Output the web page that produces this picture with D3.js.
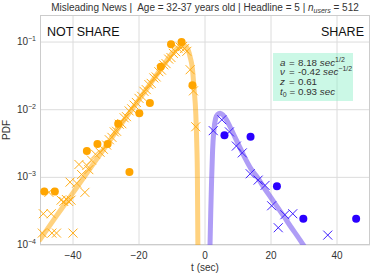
<!DOCTYPE html>
<html>
<head>
<meta charset="utf-8">
<script src="https://cdn.jsdelivr.net/npm/d3@7"></script>
<style>
body { margin: 0; background: #fff; }
text { font-family: "Liberation Sans", Arial, sans-serif; white-space: pre; }
</style>
</head>
<body>
<script>
var width = 374;
var height = 275;
var margin = {left: 40, right: 4, top: 15, bottom: 30};

// histogram points (circles)
var notShareBinT = [-48.7, -45.5, -35.8, -32.6, -29.5, -26.3, -22.9, -19.9, -16.7, -13.4, -10.3, -7.1, -3.8];
var notShareBinPdf = [6.2e-4, 6.2e-4, 2.45e-3, 3.1e-3, 3.1e-3, 6.2e-3, 1.2e-3, 8.9e-3, 1.26e-2, 4.3e-2, 9.3e-2, 1.0e-1, 2.3e-2];
var shareBinT = [5.9, 13.8, 21.8, 29.8, 45.8];
var shareBinPdf = [4.2e-3, 4.0e-3, 7.4e-4, 2.45e-4, 2.45e-4];

// kde points (crosses)
var notShareObsT = [-49.3, -46.4, -45.0, -40.0, -49.0, -46.6, -47.3,
    -43.6, -42.8, -42.0, -41.3, -40.6, -40.9, -38.9, -36.4,
    -38.2, -37.4, -35.8, -35.2, -34.4, -33.2, -31.8, -30.8, -29.8,
    -29.0, -28.2, -27.5, -26.8, -26.0, -25.2, -24.5, -23.8, -23.0, -22.2,
    -21.5, -20.8, -20.0, -19.2, -18.5, -17.8, -17.0, -16.3, -15.5, -14.8,
    -14.0, -13.2, -12.5, -11.8, -11.0, -10.3, -9.6, -8.9, -8.2, -7.5,
    -6.8, -6.2, -5.5, -4.5, -3.5, -2.8];
var notShareObsPdf = [1.5e-4, 1.5e-4, 1.5e-4, 1.5e-4, 2.9e-4, 2.9e-4, 6.0e-4,
    4.6e-4, 4.4e-4, 4.7e-4, 4.4e-4, 4.6e-4, 8.5e-4, 8.2e-4, 6.0e-4,
    1.55e-3, 1.1e-3, 1.5e-3, 1.3e-3, 1.8e-3, 2.2e-3, 2.35e-3, 2.6e-3, 3.0e-3,
    3.6e-3, 3.9e-3, 4.7e-3, 4.8e-3, 6.1e-3, 6.2e-3, 7.6e-3, 7.9e-3, 9.6e-3, 1.03e-2,
    1.17e-2, 1.28e-2, 1.47e-2, 1.58e-2, 1.87e-2, 1.98e-2, 2.35e-2, 2.45e-2, 2.95e-2, 3.05e-2,
    3.65e-2, 3.85e-2, 4.6e-2, 4.8e-2, 5.6e-2, 5.9e-2, 6.8e-2, 7.2e-2, 8.1e-2, 8.4e-2,
    8.6e-2, 8.0e-2, 7.3e-2, 3.9e-2, 1.9e-2, 5.6e-3];
var shareObsT = [2.5, 5.1, 7.4, 9.5, 11.3, 13.7, 16.1, 18.2, 20.2, 22.2, 24.2, 26.6, 37.2];
var shareObsPdf = [4.9e-3, 7.1e-3, 4.7e-3, 2.9e-3, 2.3e-3, 1.13e-3, 9.1e-4, 7.6e-4, 3.8e-4, 1.8e-4, 2.8e-4, 2.9e-4, 1.4e-4];

// fitted model curves
var notShareFitT = [-50, -45, -40, -35, -30, -25, -20, -15, -12, -10, -8, -7, -6, -5, -4.5, -3.8, -3.3, -2.8, -2.5, -2.3, -2.15];
var notShareFitPdf = [1.2e-4, 2.7e-4, 5.9e-4, 1.32e-3, 2.9e-3, 6.5e-3, 1.41e-2, 3.1e-2, 5.0e-2, 6.8e-2, 8.3e-2, 8.9e-2, 8.7e-2, 7.4e-2, 6.0e-2, 4.0e-2, 2.0e-2, 8.9e-3, 3.2e-3, 1.0e-3, 9e-5];
var shareFitT = [1.5, 1.75, 2.0, 2.3, 2.7, 3.2, 3.8, 4.6, 5.5, 6.5, 7.6, 9, 10.6, 12.3, 14, 16, 18, 20, 22, 24, 26, 28, 30.5];
var shareFitPdf = [9e-5, 3.2e-4, 9.1e-4, 2.5e-3, 5.0e-3, 7.4e-3, 8.5e-3, 8.9e-3, 8.3e-3, 7.1e-3, 5.6e-3, 4.0e-3, 2.75e-3, 1.86e-3, 1.32e-3, 9.8e-4, 6.9e-4, 5.0e-4, 3.6e-4, 2.6e-4, 1.86e-4, 1.35e-4, 8.9e-5];

var xTicks = [-40, -20, 0, 20, 40];
var yTicks = [1e-1, 1e-2, 1e-3, 1e-4];
// each row: symbol, value, unit, unit exponent
var paramSymbols = ['a', '\u03bd', 'z', 't'];
var paramValues = ['8.18', '-0.42', '0.61', '0.93'];
var paramUnits = ['sec', 'sec', '', 'sec'];
var paramExps = ['1/2', '\u22121/2', '', ''];

var orange = '#ffa500';
var blue = '#2a00ff';

var svg = d3.select('body')
    .append('svg')
    .attr('width', width)
    .attr('height', height);

var x = d3.scaleLinear().domain([-50, 50]).range([margin.left, width - margin.right]);
var y = d3.scaleLog().domain([1e-4, Math.pow(10, -0.6)]).range([height - margin.bottom, margin.top]);

svg.append('defs').append('clipPath').attr('id', 'clip')
    .append('rect')
    .attr('x', margin.left).attr('y', margin.top)
    .attr('width', width - margin.left - margin.right)
    .attr('height', height - margin.top - margin.bottom);

// grid
var grid = svg.append('g').attr('stroke', '#dcdcdc').attr('stroke-width', 1);
grid.selectAll('.gx').data(xTicks).enter().append('line')
    .attr('x1', d => x(d)).attr('x2', d => x(d))
    .attr('y1', margin.top).attr('y2', height - margin.bottom);
grid.selectAll('.gy').data(yTicks).enter().append('line')
    .attr('y1', d => y(d)).attr('y2', d => y(d))
    .attr('x1', margin.left).attr('x2', width - margin.right);

// frame
svg.append('rect')
    .attr('x', margin.left + 0.5).attr('y', margin.top + 0.5)
    .attr('width', width - margin.left - margin.right - 1)
    .attr('height', height - margin.top - margin.bottom - 1)
    .attr('fill', 'none').attr('stroke', '#cccccc');

// parameter box (behind data)
var box = svg.append('g').attr('font-size', 9.8).attr('fill', '#333');
box.append('rect')
    .attr('x', 273).attr('y', 53).attr('width', 80).attr('height', 48)
    .attr('fill', 'rgb(140,240,200)').attr('fill-opacity', 0.45);
paramSymbols.forEach(function(sym, i) {
    var yy = 65.5 + i * 9.8;
    var row = box.append('text').attr('y', yy);
    row.append('tspan').attr('x', 280).attr('font-style', 'italic').text(sym);
    if (sym === 't') {
        row.append('tspan').attr('font-size', 7).attr('dy', 2).text('0');
        row.append('tspan').attr('dy', -2).attr('x', 289.5).text('=');
    } else {
        row.append('tspan').attr('x', 289).text('=');
    }
    row.append('tspan').attr('x', 298).text(paramValues[i] + ' ');
    if (paramUnits[i]) {
        row.append('tspan').attr('font-style', 'italic').text(paramUnits[i]);
        if (paramExps[i]) {
            row.append('tspan').attr('font-size', 7).attr('dy', -4).text(paramExps[i]);
        }
    }
});

var plot = svg.append('g').attr('clip-path', 'url(#clip)');

var lineX = d3.line()
    .x(d => x(d[0]))
    .y(d => y(d[1]))
    .curve(d3.curveMonotoneX);

plot.append('path')
    .datum(d3.zip(notShareFitT, notShareFitPdf))
    .attr('d', lineX)
    .attr('fill', 'none')
    .attr('stroke', orange).attr('stroke-opacity', 0.5)
    .attr('stroke-width', 5)
    .attr('stroke-linecap', 'round');

plot.append('path')
    .datum(d3.zip(shareFitT, shareFitPdf))
    .attr('d', lineX)
    .attr('fill', 'none')
    .attr('stroke', '#7a5cf0').attr('stroke-opacity', 0.6)
    .attr('stroke-width', 5)
    .attr('stroke-linecap', 'round');

function crosses(g, ts, ps, color) {
    var s = 4.5;
    g.selectAll(null)
        .data(d3.zip(ts, ps))
        .enter()
        .append('path')
        .attr('d', d => {
            var cx = x(d[0]), cy = y(d[1]);
            return 'M' + (cx - s) + ',' + (cy - s) + 'L' + (cx + s) + ',' + (cy + s) +
                'M' + (cx - s) + ',' + (cy + s) + 'L' + (cx + s) + ',' + (cy - s);
        })
        .attr('stroke', color)
        .attr('stroke-width', 1)
        .attr('fill', 'none');
}

function dots(g, ts, ps, color) {
    g.selectAll(null)
        .data(d3.zip(ts, ps))
        .enter()
        .append('circle')
        .attr('cx', d => x(d[0]))
        .attr('cy', d => y(d[1]))
        .attr('r', 4)
        .attr('fill', color);
}

var marks = svg.append('g');
crosses(marks, notShareObsT, notShareObsPdf, '#ffae1a');
crosses(marks, shareObsT, shareObsPdf, '#4020ff');
dots(marks, notShareBinT, notShareBinPdf, orange);
dots(marks, shareBinT, shareBinPdf, blue);

// axes labels
svg.selectAll('.xt').data(xTicks).enter().append('text')
    .attr('x', d => x(d))
    .attr('y', height - margin.bottom + 14)
    .attr('text-anchor', 'middle')
    .attr('font-size', 10)
    .attr('fill', '#333')
    .text(d => d < 0 ? '\u2212' + Math.abs(d) : d);

svg.selectAll('.yt').data(yTicks).enter().append('text')
    .attr('x', 36)
    .attr('y', d => y(d) + 3)
    .attr('text-anchor', 'end')
    .attr('font-size', 10)
    .attr('fill', '#333')
    .each(function(d) {
        var t = d3.select(this);
        t.append('tspan').text('10');
        t.append('tspan').text('\u2212' + Math.round(-Math.log10(d)))
            .attr('font-size', 7).attr('dy', -4);
    });

svg.append('text')
    .attr('x', x(0))
    .attr('y', height - 4)
    .attr('text-anchor', 'middle')
    .attr('font-size', 10)
    .attr('fill', '#333')
    .text('t (sec)');

svg.append('text')
    .attr('transform', 'translate(10,' + ((margin.top + height - margin.bottom) / 2) + ') rotate(-90)')
    .attr('text-anchor', 'middle')
    .attr('font-size', 10)
    .attr('fill', '#333')
    .text('PDF');

// title
var title = svg.append('text')
    .attr('x', 205)
    .attr('y', 11)
    .attr('text-anchor', 'middle')
    .attr('font-size', 10)
    .attr('fill', '#333');
title.append('tspan').text('Misleading News |  Age = 32-37 years old | Headline = 5 | ');
title.append('tspan').text('n').attr('font-style', 'italic');
title.append('tspan').text('users').attr('font-style', 'italic').attr('font-size', 7).attr('dy', 2);
title.append('tspan').text(' = 512').attr('dy', -2);

svg.append('text')
    .attr('x', 47).attr('y', 36)
    .attr('font-size', 12.5)
    .attr('fill', '#111')
    .text('NOT SHARE');

svg.append('text')
    .attr('x', 364).attr('y', 36)
    .attr('text-anchor', 'end')
    .attr('font-size', 12.5)
    .attr('fill', '#111')
    .text('SHARE');
</script>
</body>
</html>
